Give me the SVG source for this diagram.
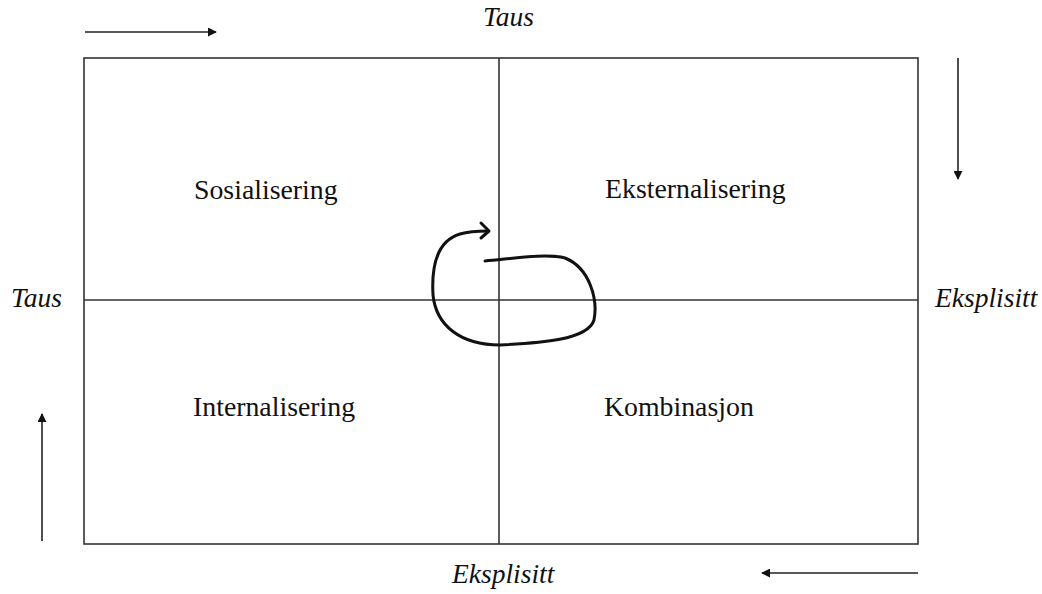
<svg xmlns="http://www.w3.org/2000/svg" width="1042" height="594" viewBox="0 0 1042 594">
<defs>
<marker id="ah" viewBox="0 0 10 10" refX="9" refY="5" markerWidth="9" markerHeight="9" markerUnits="userSpaceOnUse" orient="auto">
<path d="M0,0 L10,5 L0,10 Z" fill="#111"/>
</marker>
</defs>
<style>
.lbl{font-family:"Liberation Serif","Times New Roman",serif;font-size:27.8px;fill:#111}
.it{font-style:italic;font-size:27.5px}
.ln{stroke:#333;stroke-width:1.6;fill:none}
.ar{stroke:#222;stroke-width:1.6;fill:none;marker-end:url(#ah)}
</style>
<rect width="1042" height="594" fill="#fff"/>
<g id="grid">
<rect class="ln" x="84" y="58" width="834" height="486"/>
<line class="ln" x1="499" y1="58" x2="499" y2="544"/>
<line class="ln" x1="84" y1="300" x2="918" y2="300"/>
</g>
<g id="sosialisering"><text class="lbl" x="194" y="199">Sosialisering</text></g>
<g id="eksternalisering"><text class="lbl" x="605" y="198">Eksternalisering</text></g>
<g id="internalisering"><text class="lbl" x="193" y="416">Internalisering</text></g>
<g id="kombinasjon"><text class="lbl" x="604" y="416">Kombinasjon</text></g>
<g id="axis-labels">
<text class="lbl it" x="483" y="26">Taus</text>
<text class="lbl it" x="11" y="307">Taus</text>
<text class="lbl it" x="935" y="307">Eksplisitt</text>
<text class="lbl it" x="452" y="583">Eksplisitt</text>
</g>
<g id="connectors">
<line class="ar" x1="85" y1="32" x2="216" y2="32"/>
<line class="ar" x1="958" y1="58" x2="958" y2="179"/>
<line class="ar" x1="918" y1="573" x2="762" y2="573"/>
<line class="ar" x1="42" y1="541" x2="42" y2="414"/>
<path d="M485,261 C510,259 545,253 565,258 C590,268 598,300 594,320 C588,340 540,343 500,345 C460,345 436,325 433,295 C431,260 440,240 460,234 C470,231 480,231 488,231" stroke="#111" stroke-width="3" fill="none" stroke-linecap="round"/>
<path d="M481,223 L489,231 L481,238" stroke="#111" stroke-width="3" fill="none" stroke-linecap="round" stroke-linejoin="round"/>
</g>
</svg>
